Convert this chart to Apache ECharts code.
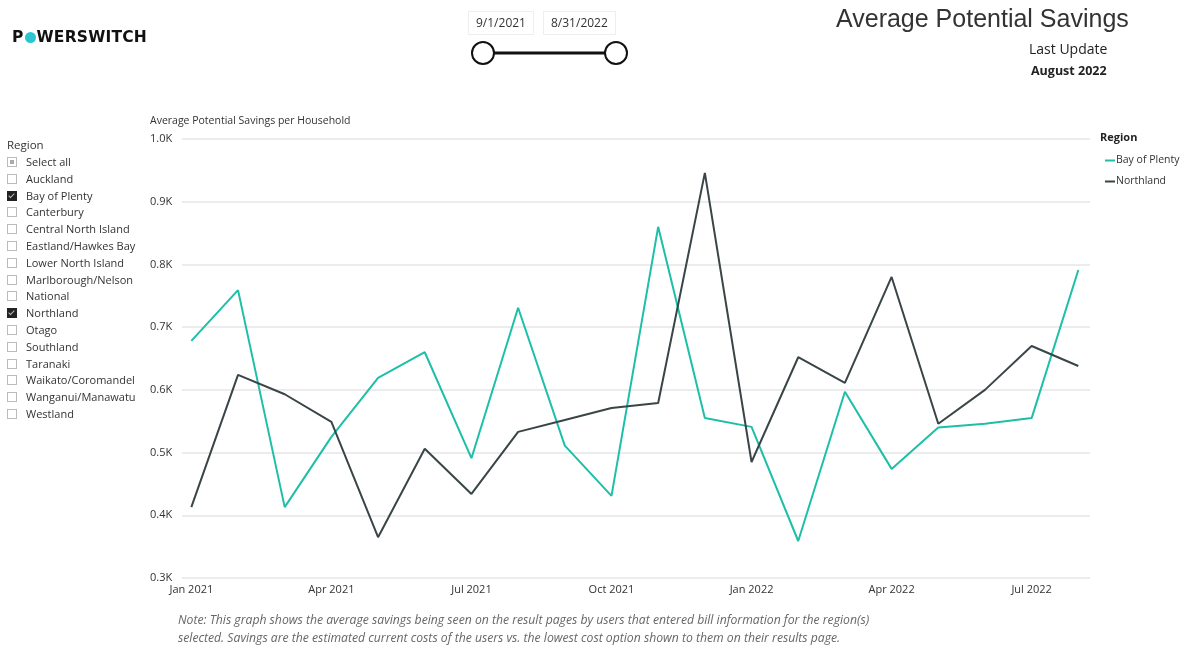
<!DOCTYPE html>
<html>
<head>
<meta charset="utf-8">
<script src="https://cdn.jsdelivr.net/npm/echarts@6/dist/echarts.min.js"></script>
<style>
body{margin:0;background:#fff;font-family:"Open Sans","DejaVu Sans",sans-serif;}
#page{position:relative;width:1184px;height:646px;overflow:hidden;}
#chart{position:absolute;left:0;top:0;width:1184px;height:646px;}
.abs{position:absolute;white-space:nowrap;}
#logo{left:12px;top:28px;font-family:"DejaVu Sans",sans-serif;font-weight:bold;font-size:15.5px;letter-spacing:0.2px;color:#111;}
#logo .o{display:inline-block;width:11px;height:11px;border-radius:50%;background:#2cc5cf;vertical-align:-1px;margin:0 1px;}
.datebox{top:11px;height:22px;border:1px solid #eee;font-size:12px;line-height:22px;color:#333;padding:0 7px;}
#title{left:836px;top:4px;font-family:"Liberation Sans",Arial,sans-serif;font-size:25px;color:#333;}
#upd{left:1029px;top:39px;font-size:14px;color:#222;}
#month{left:1031px;top:62px;font-size:12.5px;font-weight:bold;color:#222;}
#slicer{left:7px;top:137px;font-size:11px;color:#333;}
#slicer .hd{font-size:11.5px;margin-bottom:2px;}
#slicer .row{height:16.8px;line-height:16.8px;}
#slicer .box{display:inline-block;width:10px;height:10px;border:1px solid #bbb;vertical-align:-1px;margin-right:9px;box-sizing:border-box;position:relative;}
#slicer .box.on{background:#222;border-color:#222;}
#slicer .box.on:after{content:"";position:absolute;left:2px;top:0px;width:2px;height:5px;border:solid #bbb;border-width:0 1px 1px 0;transform:rotate(45deg);}
#slicer .box.part:after{content:"";position:absolute;left:2px;top:2px;width:4px;height:4px;background:#aaa;}
#note{left:178px;top:611px;font-size:12.2px;font-style:italic;color:#666;line-height:18px;}
</style>
</head>
<body>
<div id="page">
<div id="chart"></div>
<div id="logo" class="abs">P<span class="o"></span>WERSWITCH</div>
<div class="abs datebox" style="left:468px;">9/1/2021</div>
<div class="abs datebox" style="left:543px;">8/31/2022</div>
<svg class="abs" style="left:468px;top:40px;" width="164" height="28">
<line x1="15" y1="13" x2="148" y2="13" stroke="#111" stroke-width="3"/>
<circle cx="15" cy="13" r="11" fill="#fff" stroke="#111" stroke-width="2"/>
<circle cx="148" cy="13" r="11" fill="#fff" stroke="#111" stroke-width="2"/>
</svg>
<div id="title" class="abs">Average Potential Savings</div>
<div id="upd" class="abs">Last Update</div>
<div id="month" class="abs">August 2022</div>
<div id="slicer" class="abs"></div>
<div id="note" class="abs">Note: This graph shows the average savings being seen on the result pages by users that entered bill information for the region(s)<br>selected. Savings are the estimated current costs of the users vs. the lowest cost option shown to them on their results page.</div>
</div>
<script>
// 月份
var months = ['Jan 2021','Feb 2021','Mar 2021','Apr 2021','May 2021','Jun 2021','Jul 2021','Aug 2021','Sep 2021','Oct 2021','Nov 2021','Dec 2021',
	'Jan 2022','Feb 2022','Mar 2022','Apr 2022','May 2022','Jun 2022','Jul 2022','Aug 2022'];
var bayOfPlenty = [678,759,413,525,619,660,491,731,511,431,860,555,541,359,597,474,540,546,555,791];
var northland = [413,624,593,549,365,506,434,533,552,571,579,946,485,652,611,780,546,600,670,638];
var yTicks = [300,400,500,600,700,800,900,1000];
var xLabelIdx = [0,3,6,9,12,15,18];//显示的月份标签

var regions = ['Select all','Auckland','Bay of Plenty','Canterbury','Central North Island','Eastland/Hawkes Bay','Lower North Island',
	'Marlborough/Nelson','National','Northland','Otago','Southland','Taranaki','Waikato/Coromandel','Wanganui/Manawatu','Westland'];
var selected = ['Bay of Plenty','Northland'];

// 左侧区域列表
var html = '<div class="hd">Region</div>';
for (var i = 0; i < regions.length; i++) {
	var cls = 'box';
	if (regions[i] == 'Select all') {
		cls += ' part';
	} else if (selected.indexOf(regions[i]) >= 0) {
		cls += ' on';
	}
	html += '<div class="row"><span class="' + cls + '"></span>' + regions[i] + '</div>';
}
document.getElementById('slicer').innerHTML = html;

function toPairs(arr){
	var res = [];
	for (var i = 0; i < arr.length; i++) {
		res.push([i, arr[i]]);
	}
	return res;
}

var lineChart = echarts.init(document.getElementById('chart'));
var option = {
	animation: false,
	textStyle: {fontFamily: '"Open Sans","DejaVu Sans",sans-serif'},
	grid: {left: 182, right: 94, top: 139, bottom: 68},
	title: {
		text: 'Average Potential Savings per Household',
		left: 145, top: 111,
		textStyle: {fontSize: 10.5, fontWeight: 'normal', color: '#333'}
	},
	legend: {
		orient: 'vertical',
		left: 1100, top: 150,
		itemWidth: 10, itemHeight: 2, itemGap: 10,
		icon: 'rect',
		textStyle: {fontSize: 10.5, color: '#333', padding: [0, 0, 0, -4]},
		data: ['Bay of Plenty', 'Northland']
	},
	graphic: [{
		type: 'text', left: 1100, top: 132,
		style: {text: 'Region', font: 'bold 11px "Open Sans","DejaVu Sans",sans-serif', fill: '#222'}
	}],
	xAxis: {
		type: 'value',
		min: -0.2, max: 19.25,
		axisLine: {show: false},
		axisTick: {show: false},
		splitLine: {show: false},
		axisLabel: {
			customValues: xLabelIdx,
			formatter: function(v){ return months[Math.round(v)]; },
			color: '#333', fontSize: 11, margin: 6
		}
	},
	yAxis: {
		type: 'value',
		min: 300, max: 1000, interval: 100,
		axisLine: {show: false},
		axisTick: {show: false},
		splitLine: {lineStyle: {color: '#e6e6e6', width: 1.5}},
		axisLabel: {
			align: 'left', margin: 32,
			color: '#333', fontSize: 11,
			formatter: function(v){ return (v / 1000).toFixed(1) + 'K'; }
		}
	},
	series: [{
		name: 'Bay of Plenty',
		type: 'line',
		data: toPairs(bayOfPlenty),
		showSymbol: false,
		lineStyle: {width: 2, color: '#1dbfa8'},
		itemStyle: {color: '#1dbfa8'}
	}, {
		name: 'Northland',
		type: 'line',
		data: toPairs(northland),
		showSymbol: false,
		lineStyle: {width: 2, color: '#394546'},
		itemStyle: {color: '#394546'}
	}]
};
lineChart.setOption(option);
</script>
</body>
</html>
